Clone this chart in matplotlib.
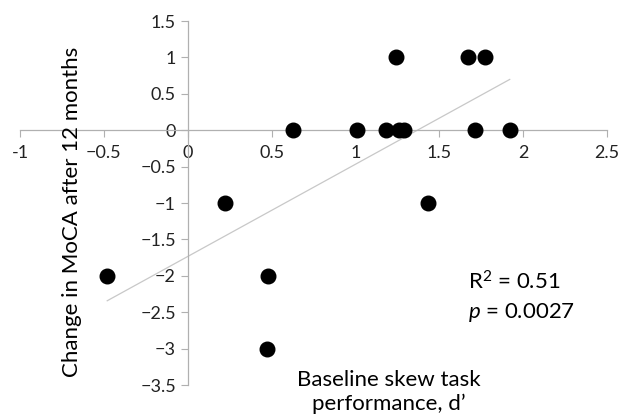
import numpy as np
import matplotlib.pyplot as plt

# ====== Data ======
dprime = [-0.48, 0.22, 0.48, 0.475, 0.63, 1.01, 1.18, 1.24, 1.26, 1.29,
          1.43, 1.67, 1.71, 1.77, 1.92]
moca_change = [-2, -1, -2, -3, 0, 0, 0, 1, 0, 0, -1, 1, 0, 1, 0]
x_ticks = [-1, -0.5, 0, 0.5, 1, 1.5, 2, 2.5]
y_ticks = [1.5, 1, 0.5, 0, -0.5, -1, -1.5, -2, -2.5, -3, -3.5]
r2_text = 'R$^2$ = 0.51'
p_text = '$\\it{p}$ = 0.0027'

plt.rcParams['font.family'] = ['Lato', 'DejaVu Sans']
plt.rcParams['mathtext.fontset'] = 'custom'
plt.rcParams['mathtext.rm'] = 'Lato'
plt.rcParams['mathtext.it'] = 'Lato:italic'

fig = plt.figure(figsize=(6.29, 4.2), dpi=100)
ax = fig.add_axes([20 / 629, 1 - 385 / 420, 587 / 629, 364 / 420])

ax.scatter(dprime, moca_change, s=110, color='black', zorder=3)

# linear trendline
slope, icpt = np.polyfit(dprime, moca_change, 1)
xs = np.array([min(dprime), max(dprime)])
ax.plot(xs, slope * xs + icpt, color='#c8c8c8', lw=0.9, zorder=2)

ax.set_xlim(-1, 2.5)
ax.set_ylim(-3.5, 1.5)
ax.set_xticks(x_ticks)
ax.set_yticks(y_ticks)
ax.set_xticklabels([f'{t:g}'.replace('-', '\u2212') if t != -1 else '-1' for t in x_ticks])
ax.set_yticklabels([f'{t:g}'.replace('-', '\u2212') for t in y_ticks])

for side in ['top', 'right']:
    ax.spines[side].set_visible(False)
ax.spines['left'].set_position(('data', 0))
ax.spines['bottom'].set_position(('data', 0))
for side in ['left', 'bottom']:
    ax.spines[side].set_color('#b0b0b0')
    ax.spines[side].set_linewidth(0.9)
ax.tick_params(axis='both', direction='out', length=5, color='#b0b0b0',
               labelsize=13, labelcolor='#222222')
ax.tick_params(axis='x', pad=6)
ax.patch.set_alpha(0)

fig.text(72 / 629, 1 - 212 / 420, 'Change in MoCA after 12 months', rotation=90,
         ha='center', va='center', fontsize=16, color='#000000')
fig.text(389 / 629, 1 - 392 / 420, 'Baseline skew task\nperformance, d\u2019',
         ha='center', va='center', fontsize=16, color='#000000', linespacing=1.25)

ax.text(1.67, -2.08, r2_text, ha='left', va='center', fontsize=16, color='#000000')
ax.text(1.67, -2.5, p_text, ha='left', va='center', fontsize=16, color='#000000')

fig.savefig('out.png', dpi=100)
